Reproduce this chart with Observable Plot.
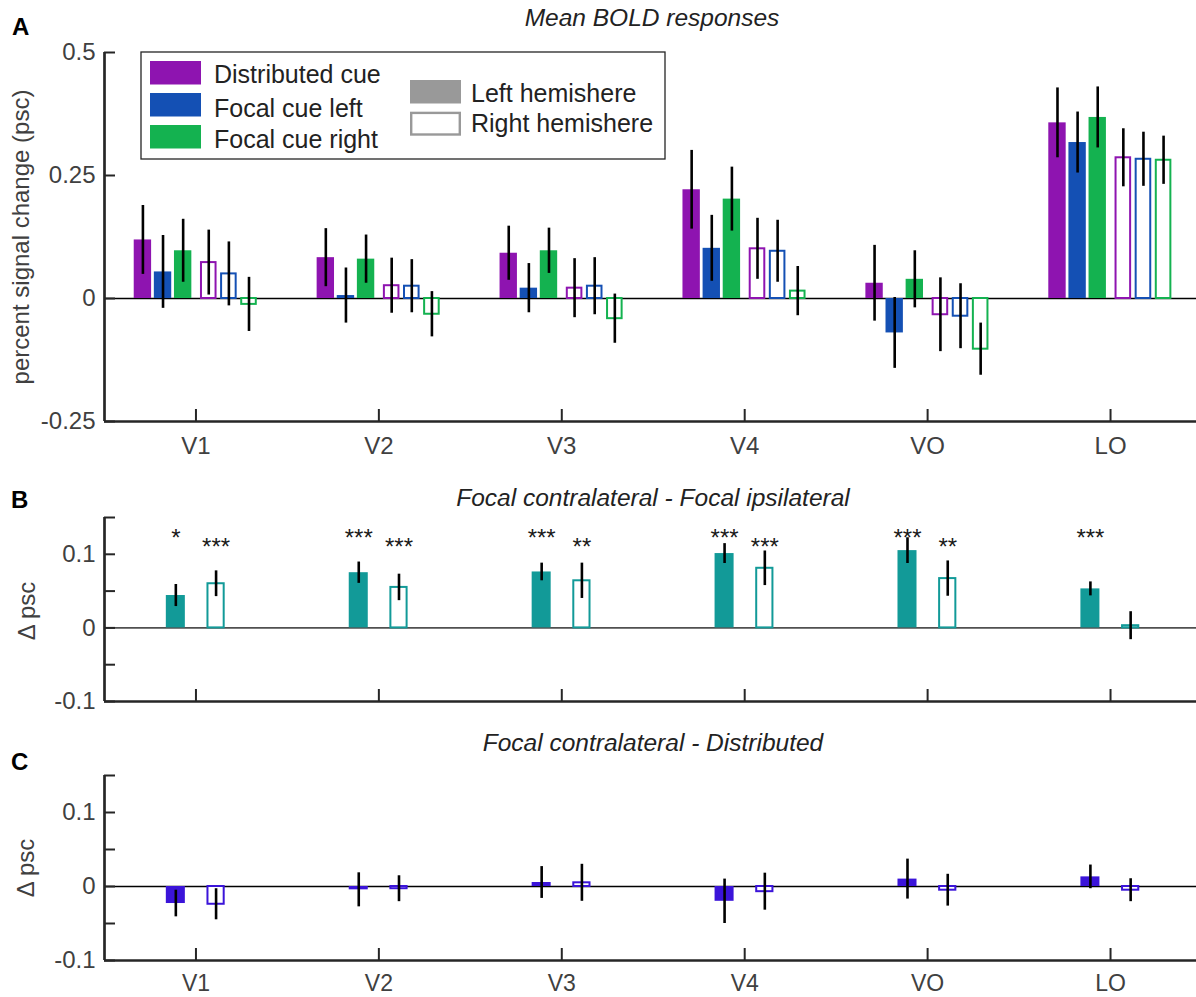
<!DOCTYPE html>
<html>
<head>
<meta charset="utf-8">
<script src="https://cdn.jsdelivr.net/npm/d3@7"></script>
<script src="https://cdn.jsdelivr.net/npm/@observablehq/plot@0.6"></script>
<style>
  body { margin: 0; background: #fff; }
  #wrap { position: relative; width: 1196px; height: 997px; overflow: hidden; background: #fff; }
  #wrap > svg, #wrap > figure { position: absolute; left: 0; margin: 0; }
</style>
</head>
<body>
<div id="wrap"></div>
<script>
// ---------------- DATA ----------------
const regions = ["V1", "V2", "V3", "V4", "VO", "LO"];

// Panel A: mean BOLD responses (psc); "Left" = left hemisphere (filled), "Right" = right hemisphere (outlined)
const distLeft     = [0.119, 0.083, 0.092, 0.221, 0.031, 0.357];
const focLLeft     = [0.054, 0.006, 0.021, 0.102, -0.070, 0.317];
const focRLeft     = [0.097, 0.080, 0.097, 0.202, 0.039, 0.368];
const distRight    = [0.073, 0.026, 0.021, 0.101, -0.033, 0.286];
const focLRight    = [0.050, 0.025, 0.025, 0.096, -0.036, 0.283];
const focRRight    = [-0.012, -0.032, -0.041, 0.015, -0.103, 0.281];
const distLeftErr  = [0.070, 0.059, 0.055, 0.080, 0.077, 0.071];
const focLLeftErr  = [0.074, 0.056, 0.050, 0.067, 0.072, 0.062];
const focRLeftErr  = [0.064, 0.049, 0.046, 0.065, 0.058, 0.062];
const distRightErr = [0.066, 0.056, 0.060, 0.062, 0.075, 0.059];
const focLRightErr = [0.065, 0.054, 0.058, 0.063, 0.066, 0.055];
const focRRightErr = [0.055, 0.046, 0.050, 0.050, 0.053, 0.049];

// Panel B: Focal contralateral - Focal ipsilateral
const contraIpsiLeft     = [0.044, 0.075, 0.076, 0.101, 0.105, 0.053];
const contraIpsiLeftErr  = [0.015, 0.0145, 0.012, 0.0135, 0.0175, 0.0095];
const contraIpsiRight    = [0.060, 0.055, 0.064, 0.081, 0.067, 0.003];
const contraIpsiRightErr = [0.0175, 0.018, 0.024, 0.0235, 0.024, 0.019];
const starsLeft  = ["*", "***", "***", "***", "***", "***"];
const starsRight = ["***", "***", "**", "***", "**", ""];

// Panel C: Focal contralateral - Distributed
const contraDistLeft     = [-0.023, -0.0045, 0.0054, -0.020, 0.010, 0.013];
const contraDistLeftErr  = [0.018, 0.023, 0.0215, 0.030, 0.027, 0.016];
const contraDistRight    = [-0.024, -0.003, 0.005, -0.007, -0.005, -0.005];
const contraDistRightErr = [0.021, 0.0175, 0.025, 0.025, 0.0215, 0.0155];

// ---------------- STYLE ----------------
const FONT = "'Liberation Sans', Arial, Helvetica, sans-serif";
const AX = "#262626";
const TXT = "#404040";
const purple = "#8e14b0", blue = "#1450b4", green = "#14b250";
const teal = "#129a98", violet = "#3b14d9";
const W = 1196, LEFT = 104;
const xDomain = [0.5, 6.47];
const xTicks = regions.map((_, i) => i + 1);

function rows(vals, errs, offset, width, color, filled, stars) {
  return vals.map((v, i) => ({
    region: regions[i], c: i + 1 + offset,
    x1: i + 1 + offset - width / 2, x2: i + 1 + offset + width / 2,
    v, lo: v - errs[i], hi: v + errs[i], color, filled,
    star: stars ? stars[i] : ""
  }));
}

function panel({top, height, mTop, mBottom, yDomain, tickVals, labelVals, data, zeroStroke, zeroWidth, showX, xPad, xFont = 24, extra = []}) {
  const plotH = height - mTop - mBottom;
  const plotW = W - LEFT;
  const filled = data.filter(d => d.filled);
  const open = data.filter(d => !d.filled);
  const marks = [
    Plot.ruleY([0], {stroke: zeroStroke, strokeWidth: zeroWidth}),
    Plot.rectY(filled, {x1: "x1", x2: "x2", y1: 0, y2: "v", fill: d => d.color}),
    Plot.rectY(open, {x1: "x1", x2: "x2", y1: 0, y2: "v", fill: "white", stroke: d => d.color, strokeWidth: 2, insetLeft: 1.4, insetRight: 1.4}),
    Plot.ruleX(data, {x: "c", y1: "lo", y2: "hi", stroke: "black", strokeWidth: 2.6}),
    ...extra,
    Plot.tickY(tickVals, {y: d => d, stroke: AX, strokeWidth: 2, insetRight: plotW - 11}),
    Plot.tickX(xTicks, {x: d => d, stroke: AX, strokeWidth: 2, insetTop: plotH - 12}),
    Plot.ruleX([xDomain[0]], {stroke: AX, strokeWidth: 2.7}),
    Plot.ruleY([yDomain[0]], {stroke: AX, strokeWidth: 2.7}),
    Plot.axisY({ticks: labelVals, tickSize: 0, tickPadding: 9, fontSize: 24, fill: TXT, label: null, tickFormat: d => String(d)})
  ];
  if (showX) marks.push(Plot.axisX({ticks: xTicks, tickSize: 0, tickPadding: xPad, fontSize: xFont, fill: TXT, label: null, tickFormat: d => regions[d - 1]}));
  const svg = Plot.plot({
    width: W, height,
    marginLeft: LEFT, marginRight: 0, marginTop: mTop, marginBottom: mBottom,
    style: {fontFamily: FONT, background: "transparent", overflow: "visible"},
    x: {domain: xDomain, axis: showX ? undefined : null},
    y: {domain: yDomain},
    marks
  });
  svg.style.position = "absolute";
  svg.style.top = top + "px";
  svg.style.left = "0px";
  document.getElementById("wrap").appendChild(svg);
}

// Panel A
const offA = [-0.29, -0.18, -0.07, 0.07, 0.18, 0.29], wA = 0.095;
const dataA = [
  ...rows(distLeft, distLeftErr, offA[0], wA, purple, true),
  ...rows(focLLeft, focLLeftErr, offA[1], wA, blue, true),
  ...rows(focRLeft, focRLeftErr, offA[2], wA, green, true),
  ...rows(distRight, distRightErr, offA[3], wA, purple, false),
  ...rows(focLRight, focLRightErr, offA[4], wA, blue, false),
  ...rows(focRRight, focRRightErr, offA[5], wA, green, false)
];
panel({top: 0, height: 470, mTop: 52, mBottom: 49, yDomain: [-0.25, 0.5],
  tickVals: [-0.25, 0, 0.25, 0.5], labelVals: [-0.25, 0, 0.25, 0.5],
  data: dataA, zeroStroke: "black", zeroWidth: 1.3, showX: true, xPad: 15});

// Panel B
const offB = 0.11, wB = 0.104;
const bLeft = rows(contraIpsiLeft, contraIpsiLeftErr, -offB, wB, teal, true, starsLeft);
const bRight = rows(contraIpsiRight, contraIpsiRightErr, offB, wB, teal, false, starsRight);
panel({top: 470, height: 241, mTop: 47, mBottom: 10, yDomain: [-0.1, 0.15],
  tickVals: [-0.1, -0.05, 0, 0.05, 0.1, 0.15], labelVals: [-0.1, 0, 0.1],
  data: [...bLeft, ...bRight], zeroStroke: "#505050", zeroWidth: 1.8, showX: false,
  extra: [
    Plot.text(bLeft, {x: "c", y: 0.122, text: "star", fontSize: 24, fill: "#1a1a1a", lineAnchor: "middle"}),
    Plot.text(bRight, {x: "c", y: 0.109, text: "star", fontSize: 24, fill: "#1a1a1a", lineAnchor: "middle"})
  ]});

// Panel C
panel({top: 730, height: 267, mTop: 45, mBottom: 37, yDomain: [-0.1, 0.15],
  tickVals: [-0.1, -0.05, 0, 0.05, 0.1, 0.15], labelVals: [-0.1, 0, 0.1],
  data: [...rows(contraDistLeft, contraDistLeftErr, -offB, wB, violet, true),
         ...rows(contraDistRight, contraDistRightErr, offB, wB, violet, false)],
  zeroStroke: "black", zeroWidth: 1.3, showX: true, xPad: 14, xFont: 23});

// ---------------- TEXT OVERLAY & LEGEND ----------------
const ov = d3.select("#wrap").append("svg")
  .attr("width", W).attr("height", 997)
  .style("position", "absolute").style("top", "0px").style("left", "0px")
  .style("pointer-events", "none")
  .style("font-family", FONT);

const texts = [
  {t: "A", x: 12, y: 35, w: "bold", s: 24, fill: "#000"},
  {t: "B", x: 11, y: 508, w: "bold", s: 24, fill: "#000"},
  {t: "C", x: 11, y: 770, w: "bold", s: 24, fill: "#000"},
  {t: "Mean BOLD responses", x: 652, y: 26, i: true, s: 24.5, a: "middle", fill: "#222"},
  {t: "Focal contralateral - Focal ipsilateral", x: 653, y: 506, i: true, s: 24.5, a: "middle", fill: "#222"},
  {t: "Focal contralateral - Distributed", x: 653, y: 751, i: true, s: 24.5, a: "middle", fill: "#222"}
];
ov.selectAll("text.t").data(texts).join("text")
  .attr("x", d => d.x).attr("y", d => d.y)
  .attr("font-size", d => d.s).attr("font-weight", d => d.w || "normal")
  .attr("font-style", d => d.i ? "italic" : "normal")
  .attr("text-anchor", d => d.a || "start").attr("fill", d => d.fill)
  .text(d => d.t);

const ylabels = [
  {t: "percent signal change (psc)", x: 29, y: 237},
  {t: "\u0394 psc", x: 35, y: 611},
  {t: "\u0394 psc", x: 34, y: 868}
];
ov.selectAll("text.yl").data(ylabels).join("text")
  .attr("transform", d => `translate(${d.x},${d.y}) rotate(-90)`)
  .attr("text-anchor", "middle").attr("font-size", 24).attr("fill", TXT)
  .text(d => d.t);

// legend
const lg = ov.append("g");
lg.append("rect").attr("x", 141).attr("y", 52).attr("width", 524).attr("height", 107)
  .attr("fill", "white").attr("stroke", AX).attr("stroke-width", 1.3);
const legItems = [
  {t: "Distributed cue", c: purple, y: 61, by: 83},
  {t: "Focal cue left", c: blue, y: 93, by: 116.5},
  {t: "Focal cue right", c: green, y: 125, by: 148}
];
legItems.forEach(d => {
  lg.append("rect").attr("x", 150).attr("y", d.y).attr("width", 51).attr("height", 23.5).attr("fill", d.c);
  lg.append("text").attr("x", 214).attr("y", d.by).attr("font-size", 25).attr("fill", "#222").text(d.t);
});
lg.append("rect").attr("x", 410).attr("y", 80).attr("width", 51).attr("height", 23.5).attr("fill", "#999");
lg.append("text").attr("x", 471).attr("y", 101.5).attr("font-size", 25).attr("fill", "#222").text("Left hemishere");
lg.append("rect").attr("x", 411.2).attr("y", 112.9).attr("width", 48.6).attr("height", 21.6)
  .attr("fill", "white").attr("stroke", "#999").attr("stroke-width", 2.4);
lg.append("text").attr("x", 471).attr("y", 131.5).attr("font-size", 25).attr("fill", "#222").text("Right hemishere");
</script>
</body>
</html>
